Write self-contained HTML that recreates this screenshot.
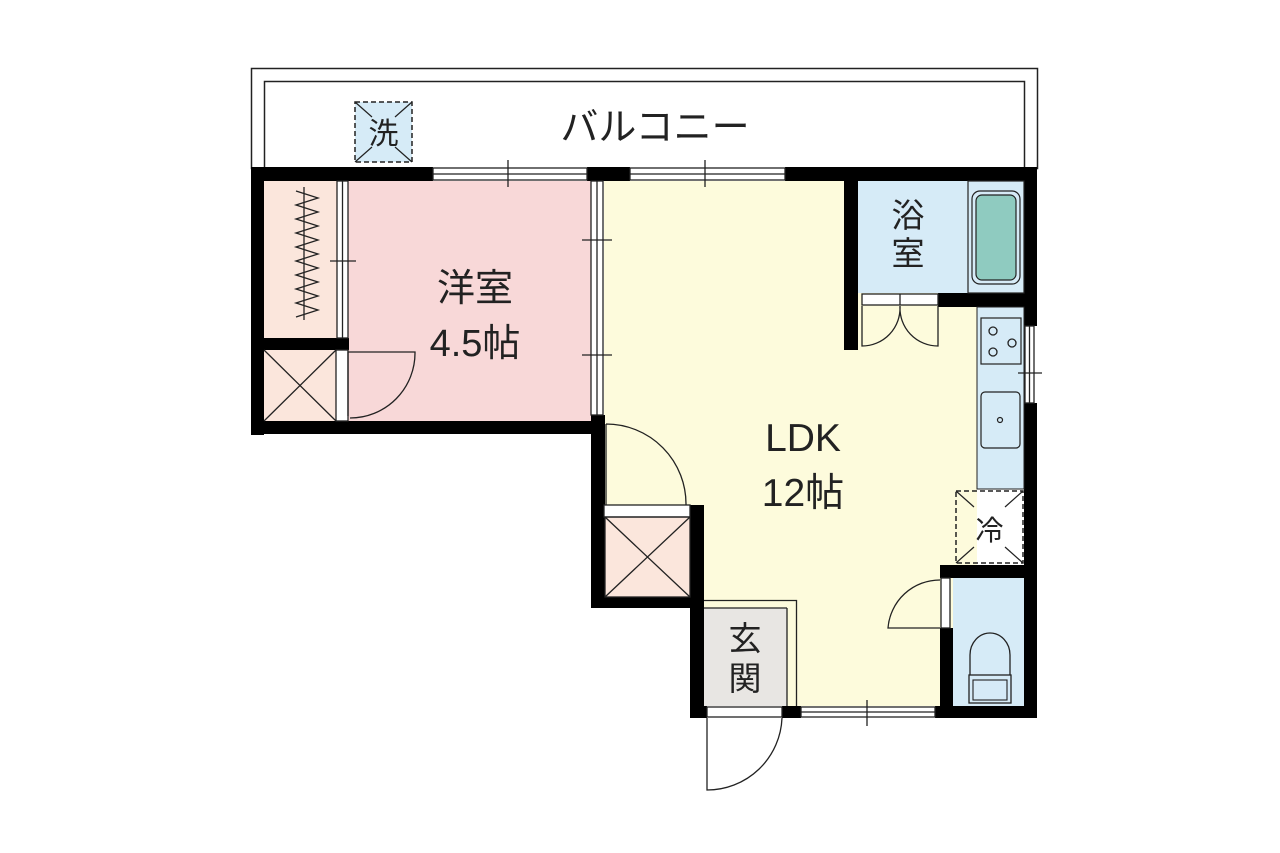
<!DOCTYPE html>
<html><head><meta charset="utf-8"><style>
html,body{margin:0;padding:0;background:#fff;}
svg{display:block;}
text{font-family:"Liberation Sans","Noto Sans CJK JP",sans-serif;fill:#222;}
</style></head><body>
<svg width="1280" height="853" viewBox="0 0 1280 853" xmlns="http://www.w3.org/2000/svg">
<rect x="251.5" y="68.5" width="786" height="100" fill="#fff" stroke="#222" stroke-width="1.5"/>
<path d="M264.5 168 V81.5 H1024.5 V168" fill="none" stroke="#222" stroke-width="1.5"/>
<rect x="355" y="102" width="57" height="60" fill="#d6ebf7" stroke="#222" stroke-width="1.5" stroke-dasharray="5,3"/>
<path d="M355 102 L372 117 M412 102 L395 117 M355 162 L372 147 M412 162 L395 147" stroke="#222" stroke-width="1.2"/>
<text x="383.5" y="144" font-size="30" text-anchor="middle">洗</text>
<text x="655" y="140" font-size="38" text-anchor="middle">バルコニー</text>

<rect x="264" y="181" width="80" height="158" fill="#fbe6dc"/>
<rect x="264" y="350" width="72" height="71" fill="#fbe6dc"/>
<rect x="348" y="181" width="243" height="240" fill="#f8d8d8"/>
<rect x="604" y="181" width="244" height="425" fill="#fdfbdc"/>
<rect x="704" y="181" width="273" height="525" fill="#fdfbdc"/>
<rect x="858" y="306" width="119" height="260" fill="#fdfbdc"/>
<rect x="858" y="181" width="166" height="112" fill="#d6ebf7"/>
<rect x="977" y="307" width="47" height="182" fill="#d6ebf7"/>
<rect x="953" y="578" width="71" height="128" fill="#d6ebf7"/>
<rect x="604" y="517" width="86" height="80" fill="#fbe6dc"/>
<rect x="704" y="608" width="83" height="98" fill="#e8e6e3"/>

<g fill="#000">
<rect x="251" y="167" width="182" height="14"/>
<rect x="587" y="167" width="43" height="14"/>
<rect x="785" y="167" width="252" height="14"/>
<rect x="251" y="167" width="13" height="268"/>
<rect x="251" y="421" width="354" height="13"/>
<rect x="264" y="338" width="85" height="12"/>
<rect x="588" y="167" width="16" height="14"/>
<rect x="591" y="415" width="14" height="193"/>
<rect x="591" y="597" width="113" height="11"/>
<rect x="690" y="505" width="14" height="213"/>
<rect x="690" y="706" width="17" height="12"/>
<rect x="782" y="706" width="19" height="12"/>
<rect x="935" y="706" width="102" height="12"/>
<rect x="844" y="167" width="14" height="183"/>
<rect x="938" y="293" width="99" height="14"/>
<rect x="1024" y="167" width="13" height="159"/>
<rect x="1024" y="403" width="13" height="315"/>
<rect x="940" y="565" width="97" height="13"/>
<rect x="940" y="628" width="13" height="90"/>
</g>

<g fill="#fff" stroke="#222" stroke-width="1.3">
<rect x="433" y="168" width="154" height="12"/>
<rect x="630" y="168" width="155" height="12"/>
<rect x="801" y="707" width="134" height="10"/>
<rect x="1025" y="326" width="9" height="77"/>
<rect x="591" y="181" width="12" height="234"/>
<rect x="337" y="181" width="11" height="157"/>
<rect x="862" y="294" width="76" height="11"/>
<rect x="707" y="707" width="75" height="10"/>
<rect x="941" y="578" width="9" height="50"/>
<rect x="336" y="350" width="12" height="71"/>
<rect x="604" y="505" width="86" height="12"/>
</g>
<g stroke="#222" stroke-width="1.3" fill="none">
<path d="M433 174 H587 M508 160 V187"/>
<path d="M630 174 H785 M705 160 V187"/>
<path d="M801 712 H935 M867 700 V726"/>
<path d="M1029.5 326 V403 M1018 373 H1042"/>
<path d="M597 181 V415 M582 240 H612 M582 355 H612"/>
<path d="M342.5 181 V338 M330 261 H356"/>
<path d="M900 294 V305"/>
<path d="M304 187 V320 M296 191 L318 198 L296 205 L318 212 L296 219 L318 226 L296 233 L318 240 L296 247 L318 254 L296 261 L318 268 L296 275 L318 282 L296 289 L318 296 L296 303 L318 310 L296 317"/>
<path d="M264 350 L336 421 M336 350 L264 421"/>
<rect x="605" y="517" width="85" height="80"/>
<path d="M605 517 L690 597 M690 517 L605 597"/>
<path d="M348 416 V352 H415 A65 65 0 0 1 350 418"/>
<path d="M606 424 A80 80 0 0 1 686 505 M606 424 V505"/>
<path d="M862 306 V346 A38 38 0 0 0 900 306 M938 306 V346 A38 38 0 0 1 900 306"/>
<path d="M940 580 A52 52 0 0 0 888 628 H940"/>
<path d="M707 718 V790 A75 75 0 0 0 782 718"/>
<path d="M704 600.5 H796.5 V706 M787 608 V706 M704 608 H787"/>
</g>
<rect x="968" y="181" width="56" height="112" fill="#d6ebf7" stroke="#222" stroke-width="1.2"/>
<rect x="972" y="191" width="48" height="93" rx="8" fill="#d6ebf7" stroke="#222" stroke-width="1.2"/>
<rect x="976" y="195" width="40" height="85" rx="6" fill="#8fcbc0" stroke="#222" stroke-width="1.2"/>
<rect x="981" y="318" width="40" height="46" fill="#d6ebf7" stroke="#222" stroke-width="1.2"/>
<g fill="none" stroke="#222" stroke-width="1.3">
<circle cx="993" cy="331" r="4"/><circle cx="993" cy="352" r="4"/><circle cx="1012" cy="343" r="4"/>
</g>
<rect x="981" y="392" width="39" height="56" rx="4" fill="#d6ebf7" stroke="#222" stroke-width="1.2"/>
<circle cx="1000" cy="420" r="2.5" fill="none" stroke="#222" stroke-width="1.2"/>
<rect x="977" y="307" width="47" height="182" fill="none" stroke="#222" stroke-width="1"/>
<rect x="956" y="491" width="67" height="72" fill="none" stroke="#222" stroke-width="1.5" stroke-dasharray="5,3"/>
<path d="M956 491 L974 507 M1023 491 L1005 507 M956 563 L974 547 M1023 563 L1005 547" stroke="#222" stroke-width="1.2"/>
<text x="989.5" y="540" font-size="28" text-anchor="middle">冷</text>
<path d="M970 675 V655 A20 22 0 0 1 1010 655 V675" fill="#d6ebf7" stroke="#222" stroke-width="1.3"/>
<rect x="969" y="675" width="42" height="28" fill="#d6ebf7" stroke="#222" stroke-width="1.3"/>
<rect x="973" y="680" width="34" height="20" fill="none" stroke="#222" stroke-width="1.1"/>
<g style="fill:#333">
<text x="475" y="301" font-size="38" text-anchor="middle">洋室</text>
<text x="475" y="356" font-size="38" text-anchor="middle">4.5帖</text>
<text x="803" y="451" font-size="39" text-anchor="middle">LDK</text>
<text x="803" y="506" font-size="39" text-anchor="middle">12帖</text>
<text x="908" y="227" font-size="33" text-anchor="middle">浴</text>
<text x="908" y="265" font-size="33" text-anchor="middle">室</text>
<text x="745" y="650" font-size="33" text-anchor="middle">玄</text>
<text x="745" y="690" font-size="33" text-anchor="middle">関</text>
</g>
</svg>
</body></html>
